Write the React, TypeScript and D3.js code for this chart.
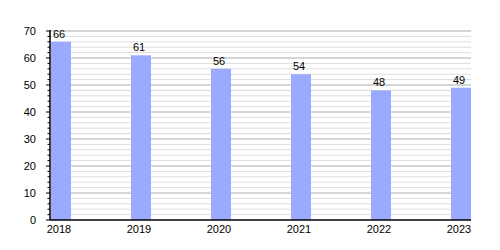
import React from "react";
import * as d3 from "d3";

const years = ["2018", "2019", "2020", "2021", "2022", "2023"];
const values = [66, 61, 56, 54, 48, 49];
const majorTicks = [0, 10, 20, 30, 40, 50, 60, 70];
const minorTicks = d3.range(0, 71, 2);

export default function App() {
  const W = 500, H = 250;
  const left = 50, right = 471, top = 31, bottom = 220;
  const y = d3.scaleLinear().domain([0, 70]).range([bottom, top]);
  const x = d3.scaleBand().domain(years).range([51, 531]).paddingInner(0).paddingOuter(0);
  const barX = (d: string) => (x(d) as number);
  const barW = 20;
  const font = "Liberation Sans, Arial, sans-serif";
  return (
    <svg width={W} height={H} style={{ position: "absolute", left: 0, top: 0, background: "#fff" }}>
      {minorTicks.filter(t => t % 10 !== 0).map(t => (
        <line key={"mg" + t} x1={left} x2={right} y1={y(t)} y2={y(t)} stroke="#dddddd" strokeWidth={1} />
      ))}
      {majorTicks.filter(t => t !== 0).map(t => (
        <line key={"Mg" + t} x1={left} x2={right} y1={y(t)} y2={y(t)} stroke="#aaaaaa" strokeWidth={1} />
      ))}
      {years.map((yr, i) => (
        <rect key={yr} x={barX(yr)} width={barW} y={y(values[i])} height={bottom - y(values[i])} fill="#99aaff" />
      ))}
      {years.map((yr, i) => (
        <text key={"v" + yr} x={barX(yr) + barW / 2 - 2} y={y(values[i]) - 4} textAnchor="middle" fontFamily={font} fontSize={11} fill="#000">
          {values[i]}
        </text>
      ))}
      {minorTicks.map(t => (
        <line key={"mt" + t} x1={t % 10 === 0 ? 46 : 47.5} x2={left} y1={y(t)} y2={y(t)} stroke="#000" strokeWidth={1} />
      ))}
      {majorTicks.map(t => (
        <text key={"yl" + t} x={36} y={y(t) + 4} textAnchor="end" fontFamily={font} fontSize={11} fill="#000">
          {t}
        </text>
      ))}
      <line x1={left} x2={left} y1={top - 1} y2={bottom} stroke="#000" strokeWidth={1.5} />
      <line x1={left} x2={right} y1={bottom} y2={bottom} stroke="#000" strokeWidth={1.5} />
      {years.map(yr => (
        <text key={"xl" + yr} x={barX(yr) + barW / 2 - 2} y={bottom + 13} textAnchor="middle" fontFamily={font} fontSize={11} fill="#000">
          {yr}
        </text>
      ))}
    </svg>
  );
}
